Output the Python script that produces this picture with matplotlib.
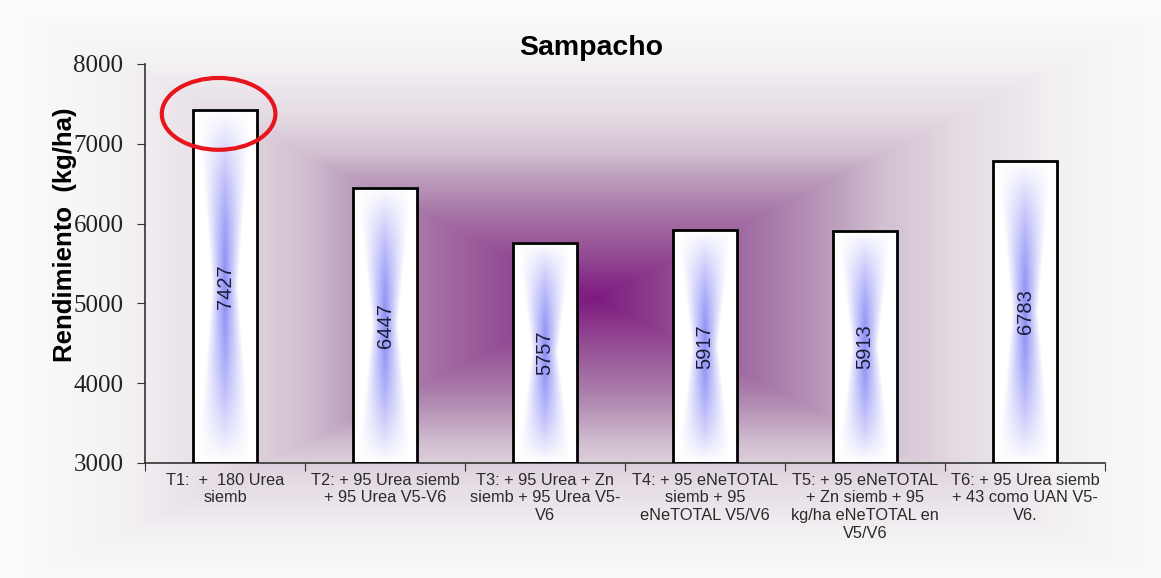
import numpy as np
import matplotlib
matplotlib.use('Agg')
import matplotlib.pyplot as plt
from matplotlib.patches import Ellipse
from matplotlib.colors import to_rgb, LinearSegmentedColormap

# yield per treatment, Sampacho site
tratamientos = [
    'T1:  +  180 Urea\nsiemb',
    'T2: + 95 Urea siemb\n+ 95 Urea V5-V6',
    'T3: + 95 Urea + Zn\nsiemb + 95 Urea V5-\nV6',
    'T4: + 95 eNeTOTAL\nsiemb + 95\neNeTOTAL V5/V6',
    'T5: + 95 eNeTOTAL\n+ Zn siemb + 95\nkg/ha eNeTOTAL en\nV5/V6',
    'T6: + 95 Urea siemb\n+ 43 como UAN V5-\nV6.',
]
rendimiento = [7427, 6447, 5757, 5917, 5913, 6783]
y_ticks = [3000, 4000, 5000, 6000, 7000, 8000]

W, H = 1161, 578
fig = plt.figure(figsize=(W / 100, H / 100), dpi=100)

# rectangular "from centre" purple gradient behind the chart
bg = fig.add_axes([0, 0, 1, 1], zorder=0)
bg.set_axis_off()
bg_cmap = LinearSegmentedColormap.from_list('fondo', [
    (0.00, '#7e1a80'),
    (0.13, '#914691'),
    (0.30, '#a878a8'),
    (0.42, '#bea0be'),
    (0.50, '#d2c0d1'),
    (0.62, '#e3d9e2'),
    (0.80, '#f3f0f3'),
    (1.00, '#fcfcfc'),
])
xx, yy = np.meshgrid(np.arange(W), np.arange(H))
cx, cy = 593, 298
t = np.clip(np.maximum(np.abs(xx - cx) / 580.0, np.abs(yy - cy) / 290.0), 0, 1)
bg.imshow(bg_cmap(t)[..., :3], extent=(0, W, H, 0), aspect='auto', interpolation='bilinear')
bg.set_xlim(0, W)
bg.set_ylim(H, 0)

ax = fig.add_axes([145 / W, 1 - 463 / H, 960 / W, 399 / H], zorder=1)
ax.patch.set_alpha(0)

x = np.arange(len(rendimiento))
bw = 0.4
ymin = 3000
bars = ax.bar(x, np.array(rendimiento) - ymin, bottom=ymin, width=bw,
              facecolor='none', edgecolor='black', linewidth=2, zorder=3)

# white-blue hourglass fill for each bar
nu, nv = 80, 200
u = np.linspace(-1, 1, nu)
v = np.linspace(-1, 1, nv)
uu, vv = np.meshgrid(u, v)
half = 0.40 + 0.45 * np.abs(vv)
inten = np.clip(1 - np.abs(uu) / half, 0, 1) ** 0.9 * np.clip(1 - np.abs(vv) ** 1.6, 0, 1)
blue = np.array(to_rgb('#7070f4'))
bar_img = np.ones((nv, nu, 3)) + (blue - 1)[None, None, :] * inten[..., None] * 0.8
for xi, val in zip(x, rendimiento):
    ax.imshow(bar_img, extent=(xi - bw / 2, xi + bw / 2, ymin, val),
              aspect='auto', zorder=2, interpolation='bilinear')
    ax.text(xi, (ymin + val) / 2, str(val), rotation=90, ha='center', va='center',
            fontsize=14.5, color='#1c1c3a', family='Liberation Sans', zorder=4)

ax.set_xlim(-0.5, len(rendimiento) - 0.5)
ax.set_ylim(3000, 8000)
ax.set_yticks(y_ticks)
ax.set_yticklabels([str(v) for v in y_ticks], family='Liberation Serif', fontsize=18, color='#222222')
ax.set_xticks(np.arange(len(rendimiento) + 1) - 0.5)
ax.set_xticklabels([])
ax.set_xticks(x, minor=True)
ax.set_xticklabels(tratamientos, minor=True, family='Liberation Sans', fontsize=11.8,
                   color='#2a2a2a', linespacing=1.22, va='top')
ax.tick_params(axis='x', which='minor', length=0, pad=7)
ax.tick_params(axis='x', which='major', length=6, color='#333333', direction='out')
ax.tick_params(axis='y', length=6, color='#333333', direction='out', pad=9.5)

for s in ['top', 'right']:
    ax.spines[s].set_visible(False)
for s in ['left', 'bottom']:
    ax.spines[s].set_color('#333333')
    ax.spines[s].set_linewidth(1.2)

ax.set_ylabel('Rendimiento  (kg/ha)', family='Liberation Sans', fontweight='bold',
              fontsize=18.5, color='black')
ax.yaxis.set_label_coords(-0.071, 0.571)
fig.text(591 / W, 1 - 48 / H, 'Sampacho', family='Liberation Sans', fontweight='bold',
         fontsize=20.5, ha='center', va='center')

# highlight around the top of T1
ax.add_patch(Ellipse((-0.04, 7375), 0.71, 900, fill=False, edgecolor='#e8141c',
                     linewidth=3, clip_on=False, zorder=5))

fig.savefig('out.png', dpi=100)
